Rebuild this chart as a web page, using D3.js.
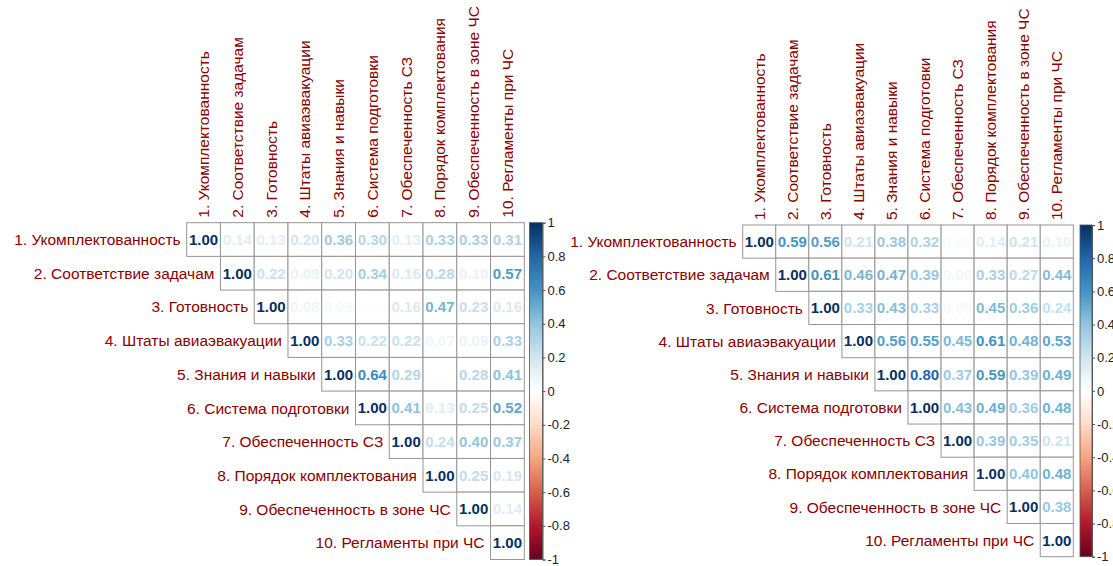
<!DOCTYPE html>
<html>
<head>
<meta charset="utf-8">
<script src="https://cdn.jsdelivr.net/npm/d3@7"></script>
<style>
  body { margin: 0; background: #fff; }
  svg { display: block; font-family: "Liberation Sans", Arial, sans-serif; }
</style>
</head>
<body>
<svg id="chart" width="1113" height="566"></svg>
<script>
// Variable names shared by both correlation matrices
const variables = [
  "1. Укомплектованность",
  "2. Соответствие задачам",
  "3. Готовность",
  "4. Штаты авиаэвакуации",
  "5. Знания и навыки",
  "6. Система подготовки",
  "7. Обеспеченность СЗ",
  "8. Порядок комплектования",
  "9. Обеспеченность в зоне ЧС",
  "10. Регламенты при ЧС"
];

// Upper triangles, each row starts at the diagonal
const leftMatrix = [
  [1.00, 0.14, 0.13, 0.20, 0.36, 0.30, 0.13, 0.33, 0.33, 0.31],
  [1.00, 0.22, 0.09, 0.20, 0.34, 0.16, 0.28, 0.10, 0.57],
  [1.00, 0.08, 0.05, 0.01, 0.16, 0.47, 0.23, 0.16],
  [1.00, 0.33, 0.22, 0.22, 0.07, 0.09, 0.33],
  [1.00, 0.64, 0.29, 0.01, 0.28, 0.41],
  [1.00, 0.41, 0.13, 0.25, 0.52],
  [1.00, 0.24, 0.40, 0.37],
  [1.00, 0.25, 0.19],
  [1.00, 0.14],
  [1.00]
];

const rightMatrix = [
  [1.00, 0.59, 0.56, 0.21, 0.38, 0.32, 0.03, 0.14, 0.21, 0.10],
  [1.00, 0.61, 0.46, 0.47, 0.39, 0.06, 0.33, 0.27, 0.44],
  [1.00, 0.33, 0.43, 0.33, 0.05, 0.45, 0.36, 0.24],
  [1.00, 0.56, 0.55, 0.45, 0.61, 0.48, 0.53],
  [1.00, 0.80, 0.37, 0.59, 0.39, 0.49],
  [1.00, 0.43, 0.49, 0.36, 0.48],
  [1.00, 0.39, 0.35, 0.21],
  [1.00, 0.40, 0.48],
  [1.00, 0.38],
  [1.00]
];

// Colour legend ticks
const legendTicks = [1, 0.8, 0.6, 0.4, 0.2, 0, -0.2, -0.4, -0.6, -0.8, -1];

// Red-white-blue diverging palette, from -1 to 1
const paletteStops = ["#67001F", "#B2182B", "#D6604D", "#F4A582", "#FDDBC7", "#FFFFFF",
                      "#D1E5F0", "#92C5DE", "#4393C3", "#2166AC", "#053061"];

const color = d3.scaleLinear()
  .domain(paletteStops.map((_, i) => -1 + i * 0.2))
  .range(paletteStops)
  .interpolate(d3.interpolateRgb);

const svg = d3.select("#chart");
const labelColor = "#8B0000";
const gridColor = "#959595";
const labelSize = 15.5;
const fmt = d3.format(".2f");

// Vertical gradient shared by both colour bars
const grad = svg.append("defs").append("linearGradient")
  .attr("id", "rdbu").attr("x1", 0).attr("y1", 1).attr("x2", 0).attr("y2", 0);
grad.selectAll("stop").data(d3.range(0, 1.0001, 0.02)).join("stop")
  .attr("offset", d => d)
  .attr("stop-color", d => color(-1 + 2 * d));

function drawPanel(matrix, box) {
  const n = variables.length;
  const g = svg.append("g");
  const x = d3.scaleBand().domain(d3.range(n)).range([box.x0, box.x1]);
  const y = d3.scaleBand().domain(d3.range(n)).range([box.y0, box.y1]);

  const cells = [];
  matrix.forEach((row, i) => row.forEach((v, k) => cells.push({ i, j: i + k, v })));

  g.selectAll("rect.cell").data(cells).join("rect")
    .attr("class", "cell")
    .attr("x", d => x(d.j)).attr("y", d => y(d.i))
    .attr("width", x.bandwidth()).attr("height", y.bandwidth())
    .attr("fill", "#fff").attr("stroke", gridColor).attr("stroke-width", 1);

  g.selectAll("text.num").data(cells).join("text")
    .attr("class", "num")
    .attr("x", d => x(d.j) + x.bandwidth() / 2)
    .attr("y", d => y(d.i) + y.bandwidth() / 2)
    .attr("dy", "0.36em")
    .attr("text-anchor", "middle")
    .attr("font-size", 15).attr("font-weight", "bold")
    .attr("fill", d => color(d.v))
    .text(d => fmt(d.v));

  // Row labels, right-aligned against the diagonal cell
  g.selectAll("text.row").data(variables).join("text")
    .attr("class", "row")
    .attr("x", (d, i) => x(i) - 6)
    .attr("y", (d, i) => y(i) + y.bandwidth() / 2)
    .attr("dy", "0.36em")
    .attr("text-anchor", "end")
    .attr("font-size", labelSize)
    .attr("fill", labelColor)
    .text(d => d);

  // Column labels, rotated above the grid
  g.selectAll("text.col").data(variables).join("text")
    .attr("class", "col")
    .attr("transform", (d, j) => `translate(${x(j) + x.bandwidth() / 2},${box.y0 - 5}) rotate(-90)`)
    .attr("dy", "0.36em")
    .attr("text-anchor", "start")
    .attr("font-size", labelSize)
    .attr("fill", labelColor)
    .text(d => d);

  // Colour bar
  g.append("rect")
    .attr("x", box.barX).attr("y", box.y0)
    .attr("width", box.barW).attr("height", box.y1 - box.y0)
    .attr("fill", "url(#rdbu)")
    .attr("stroke", "#555").attr("stroke-width", 0.8);

  const scale = d3.scaleLinear().domain([-1, 1]).range([box.y1, box.y0]);
  const axis = g.append("g")
    .attr("transform", `translate(${box.barX + box.barW},0)`)
    .call(d3.axisRight(scale).tickValues(legendTicks).tickSize(3).tickPadding(2)
      .tickFormat(d => String(+d.toFixed(1))));
  axis.select(".domain").attr("stroke", "#555");
  axis.selectAll(".tick line").attr("stroke", "#555");
  axis.selectAll(".tick text").attr("font-size", 13).attr("fill", "#222")
    .attr("font-family", "Liberation Sans, Arial, sans-serif");
}

drawPanel(leftMatrix,  { x0: 186.7, x1: 524.3, y0: 222.7, y1: 559.5, barX: 529.5, barW: 13 });
drawPanel(rightMatrix, { x0: 742.7, x1: 1073.3, y0: 225.0, y1: 556.7, barX: 1080, barW: 12 });
</script>
</body>
</html>
